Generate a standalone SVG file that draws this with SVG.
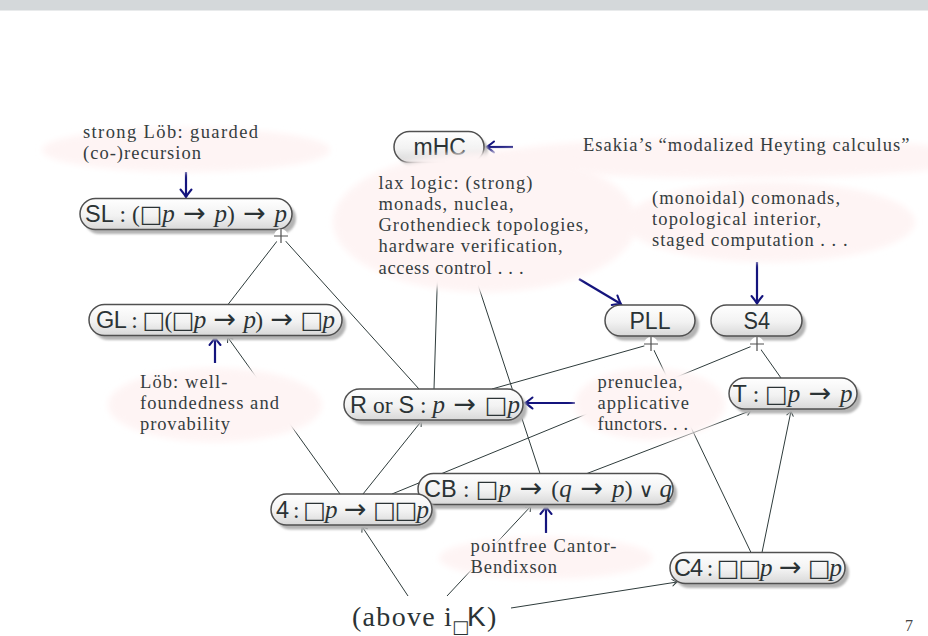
<svg xmlns="http://www.w3.org/2000/svg" width="928" height="636" viewBox="0 0 928 636">
<defs>
<style>
.ln{stroke:#2e3b3b;stroke-width:1;fill:none}
.ar{marker-end:url(#ah)}
.bl{stroke:#14147d;stroke-width:2.2;fill:none;marker-end:url(#bh)}
.pill{fill:url(#pg);stroke:#505050;stroke-width:1.5}
.shd{fill:#b4b4b4;filter:url(#sb)}
.note{fill:#fef4f4;filter:url(#nb)}
.t{font-family:"Liberation Serif","Times New Roman",serif;font-size:18.5px;fill:#353d3f}
.lbl{font-size:23.5px;fill:#2b3335}
.sf{font-family:"Liberation Sans",Arial,sans-serif}
.rm{font-family:"Liberation Serif","DejaVu Serif",serif}
.it{font-family:"Liberation Serif",serif;font-style:italic;font-size:25px}
.bx{font-family:"DejaVu Sans",sans-serif;font-size:24px}
.to{font-family:"DejaVu Sans",sans-serif;font-size:27px}
.or{font-family:"DejaVu Sans",sans-serif;font-size:20px}
.plus{stroke:#505050;stroke-width:1.2}
</style>
<linearGradient id="pg" x1="0" y1="0" x2="0" y2="1">
<stop offset="0" stop-color="#ffffff"/>
<stop offset="0.55" stop-color="#f2f2f2"/>
<stop offset="1" stop-color="#d8d8d8"/>
</linearGradient>
<filter id="sb" x="-10%" y="-30%" width="120%" height="160%"><feGaussianBlur stdDeviation="1.2"/></filter>
<filter id="nb" x="-10%" y="-20%" width="120%" height="140%"><feGaussianBlur stdDeviation="3"/></filter>
<marker id="ah" viewBox="-6 -4 7 8" refX="0" refY="0" markerWidth="7" markerHeight="8" markerUnits="userSpaceOnUse" orient="auto" overflow="visible">
<path d="M-5,-3.5 Q-1.5,-0.8 0,0 Q-1.5,0.8 -5,3.5" fill="none" stroke="#2e3b3b" stroke-width="1"/>
</marker>
<marker id="bh" viewBox="-9 -6 10 12" refX="0" refY="0" markerWidth="10" markerHeight="12" markerUnits="userSpaceOnUse" orient="auto" overflow="visible">
<path d="M-7.5,-5.5 Q-2,-1 0,0 Q-2,1 -7.5,5.5" fill="none" stroke="#14147d" stroke-width="2" stroke-linecap="round"/>
</marker>
</defs>
<rect x="0" y="0" width="928" height="10.5" fill="#d4d8da"/>

<g id="connectors">
<path class="ln" d="M281,236 L228,304.5"/>
<path class="ln" d="M281,236 L419,389"/>
<path class="ln" d="M434,389 L441,160"/>
<path class="ln" d="M540,473.5 L437,160"/>
<path class="ln" d="M651,344 L492,389"/>
<path class="ln" d="M651,344 L751,552.5"/>
<path class="ln" d="M757,344 L392,494"/>
<path class="ln" d="M757,344 L781,378"/>
<path class="ln ar" d="M340,494 L227.5,337"/>
<path class="ln ar" d="M363,494 L421.5,421"/>
<path class="ln ar" d="M408,596 L362,526.5"/>
<path class="ln ar" d="M447,596 L531,506"/>
<path class="ln ar" d="M511,608 L677,582"/>
<path class="ln ar" d="M587,473.5 L751,410.5"/>
<path class="ln ar" d="M762,552.5 L791,411"/>
<path class="bl" d="M186,172 L186,197"/>
<path class="bl" d="M215,363 L215,337.5"/>
<path class="bl" d="M513,147 L486.5,147"/>
<path class="bl" d="M579,279 L621,304"/>
<path class="bl" d="M757,262 L757,303.5"/>
<path class="bl" d="M575,403 L525,403"/>
<path class="bl" d="M546,533 L546,506.5"/>
</g>

<g id="n-mHC">
<rect class="shd" x="398" y="136" width="90" height="31" rx="15.5"/>
<rect class="pill" x="394" y="131.5" width="90" height="31" rx="15.5"/>
<text class="lbl sf" x="413.5" y="155" textLength="52.5" lengthAdjust="spacingAndGlyphs">mHC</text>
</g>
<g id="n-SL">
<rect class="shd" x="84" y="203" width="212" height="31" rx="15.5"/>
<rect class="pill" x="80" y="198.5" width="212" height="31" rx="15.5"/>
<text class="lbl" x="85" y="222" textLength="202" lengthAdjust="spacing"><tspan class="sf">SL</tspan><tspan class="rm"> : (</tspan><tspan class="bx">□</tspan><tspan class="it">p</tspan><tspan class="to"> → </tspan><tspan class="it">p</tspan><tspan class="rm">)</tspan><tspan class="to"> → </tspan><tspan class="it">p</tspan></text>
</g>
<g id="n-GL">
<rect class="shd" x="93" y="309" width="253" height="31" rx="15.5"/>
<rect class="pill" x="89" y="304.5" width="253" height="31" rx="15.5"/>
<text class="lbl" x="96" y="328" textLength="239" lengthAdjust="spacing"><tspan class="sf">GL</tspan><tspan class="rm"> : </tspan><tspan class="bx">□</tspan><tspan class="rm">(</tspan><tspan class="bx">□</tspan><tspan class="it">p</tspan><tspan class="to"> → </tspan><tspan class="it">p</tspan><tspan class="rm">)</tspan><tspan class="to"> → </tspan><tspan class="bx">□</tspan><tspan class="it">p</tspan></text>
</g>
<g id="n-RS">
<rect class="shd" x="348" y="393.5" width="179" height="31" rx="15.5"/>
<rect class="pill" x="344" y="389" width="179" height="31" rx="15.5"/>
<text class="lbl" x="350" y="412.5" textLength="170" lengthAdjust="spacing"><tspan class="sf">R</tspan><tspan class="rm"> or </tspan><tspan class="sf">S</tspan><tspan class="rm"> : </tspan><tspan class="it">p</tspan><tspan class="to"> → </tspan><tspan class="bx">□</tspan><tspan class="it">p</tspan></text>
</g>
<g id="n-PLL">
<rect class="shd" x="609" y="309.5" width="90" height="31" rx="15.5"/>
<rect class="pill" x="605" y="305" width="90" height="31" rx="15.5"/>
<text class="lbl sf" x="629.5" y="328.5" textLength="41" lengthAdjust="spacingAndGlyphs">PLL</text>
</g>
<g id="n-S4">
<rect class="shd" x="715" y="309.5" width="91" height="31" rx="15.5"/>
<rect class="pill" x="711" y="305" width="91" height="31" rx="15.5"/>
<text class="lbl sf" x="743.5" y="328.5" textLength="26.5" lengthAdjust="spacingAndGlyphs">S4</text>
</g>
<g id="n-T">
<rect class="shd" x="733" y="382.5" width="128" height="31" rx="15.5"/>
<rect class="pill" x="729" y="378" width="128" height="31" rx="15.5"/>
<text class="lbl" x="732.5" y="401.5" textLength="120" lengthAdjust="spacing"><tspan class="sf">T</tspan><tspan class="rm"> : </tspan><tspan class="bx">□</tspan><tspan class="it">p</tspan><tspan class="to"> → </tspan><tspan class="it">p</tspan></text>
</g>
<g id="n-CB">
<rect class="shd" x="422" y="478" width="255" height="31" rx="15.5"/>
<rect class="pill" x="418" y="473.5" width="255" height="31" rx="15.5"/>
<text class="lbl" x="424" y="497" textLength="248" lengthAdjust="spacing"><tspan class="sf">CB</tspan><tspan class="rm"> : </tspan><tspan class="bx">□</tspan><tspan class="it">p</tspan><tspan class="to"> → </tspan><tspan class="rm">(</tspan><tspan class="it">q</tspan><tspan class="to"> → </tspan><tspan class="it">p</tspan><tspan class="rm">) </tspan><tspan class="or">∨</tspan><tspan class="rm"> </tspan><tspan class="it">q</tspan></text>
</g>
<g id="n-4">
<rect class="shd" x="275" y="498.5" width="161" height="31" rx="15.5"/>
<rect class="pill" x="271" y="494" width="161" height="31" rx="15.5"/>
<text class="lbl" x="276" y="517.5" textLength="153" lengthAdjust="spacing"><tspan class="sf">4</tspan><tspan class="rm"> : </tspan><tspan class="bx">□</tspan><tspan class="it">p</tspan><tspan class="to"> → </tspan><tspan class="bx">□□</tspan><tspan class="it">p</tspan></text>
</g>
<g id="n-C4">
<rect class="shd" x="674" y="557" width="175" height="31" rx="15.5"/>
<rect class="pill" x="670" y="552.5" width="175" height="31" rx="15.5"/>
<text class="lbl" x="674" y="576" textLength="168" lengthAdjust="spacing"><tspan class="sf">C4</tspan><tspan class="rm"> : </tspan><tspan class="bx">□□</tspan><tspan class="it">p</tspan><tspan class="to"> → </tspan><tspan class="bx">□</tspan><tspan class="it">p</tspan></text>
</g>

<g id="joins">
<g id="j-SL"><circle cx="281" cy="236" r="7" fill="#fff"/><path class="plus" d="M274,236 H288 M281,229 V243"/></g>
<g id="j-PLL"><circle cx="651" cy="344" r="7" fill="#fff"/><path class="plus" d="M644,344 H658 M651,337 V351"/></g>
<g id="j-S4"><circle cx="757" cy="344" r="7" fill="#fff"/><path class="plus" d="M750,344 H764 M757,337 V351"/></g>
</g>

<g id="note-esakia">
<ellipse class="note" cx="735" cy="158" rx="245" ry="20"/>
<text class="t" x="583" y="151" textLength="326.5" lengthAdjust="spacing">Esakia’s “modalized Heyting calculus”</text>
</g>
<g id="note-lax">
<ellipse class="note" cx="485" cy="222" rx="152" ry="70"/>
<text class="t" x="378.5" y="188.5" textLength="154" lengthAdjust="spacing">lax logic: (strong)</text>
<text class="t" x="378.5" y="209.75" textLength="135" lengthAdjust="spacing">monads, nuclea,</text>
<text class="t" x="378.5" y="231" textLength="210" lengthAdjust="spacing">Grothendieck topologies,</text>
<text class="t" x="378.5" y="252.25" textLength="184" lengthAdjust="spacing">hardware verification,</text>
<text class="t" x="378.5" y="273.5" textLength="145" lengthAdjust="spacing">access control . . .</text>
</g>
<g id="note-comonads">
<ellipse class="note" cx="770" cy="222" rx="145" ry="40"/>
<text class="t" x="652" y="203.5" textLength="188" lengthAdjust="spacing">(monoidal) comonads,</text>
<text class="t" x="652" y="224.75" textLength="169" lengthAdjust="spacing">topological interior,</text>
<text class="t" x="652" y="246" textLength="195.5" lengthAdjust="spacing">staged computation . . .</text>
</g>
<g id="note-stronglob">
<ellipse class="note" cx="186" cy="150" rx="144" ry="22"/>
<text class="t" x="83" y="138" textLength="175" lengthAdjust="spacing">strong Löb: guarded</text>
<text class="t" x="83" y="159.25" textLength="118" lengthAdjust="spacing">(co-)recursion</text>
</g>
<g id="note-lob">
<ellipse class="note" cx="215" cy="405" rx="107" ry="37"/>
<text class="t" x="140" y="387.5" textLength="87.5" lengthAdjust="spacing">Löb: well-</text>
<text class="t" x="140" y="408.75" textLength="139" lengthAdjust="spacing">foundedness and</text>
<text class="t" x="140" y="430" textLength="90" lengthAdjust="spacing">provability</text>
</g>
<g id="note-prenuclea">
<ellipse class="note" cx="650" cy="404" rx="75" ry="36"/>
<text class="t" x="597.5" y="387.5" textLength="85" lengthAdjust="spacing">prenuclea,</text>
<text class="t" x="597.5" y="408.5" textLength="91.5" lengthAdjust="spacing">applicative</text>
<text class="t" x="597.5" y="429.5" textLength="90.5" lengthAdjust="spacing">functors. . .</text>
</g>
<g id="note-cb">
<ellipse class="note" cx="546" cy="558" rx="107" ry="21"/>
<text class="t" x="470.5" y="551.5" textLength="146" lengthAdjust="spacing">pointfree Cantor-</text>
<text class="t" x="470.5" y="572.5" textLength="86.5" lengthAdjust="spacing">Bendixson</text>
</g>

<g id="n-above">
<text y="626" style="font-size:28px;fill:#2b3335"><tspan class="rm" x="352" style="letter-spacing:1.3px">(above</tspan><tspan class="rm" x="444">i</tspan><tspan class="bx" x="452" y="633" style="font-size:18px">□</tspan><tspan class="sf" x="467" y="626">K</tspan><tspan class="rm" x="487">)</tspan></text>
</g>

<text x="905" y="631" style="font-family:'Liberation Serif',serif;font-size:16px;fill:#444">7</text>
</svg>
